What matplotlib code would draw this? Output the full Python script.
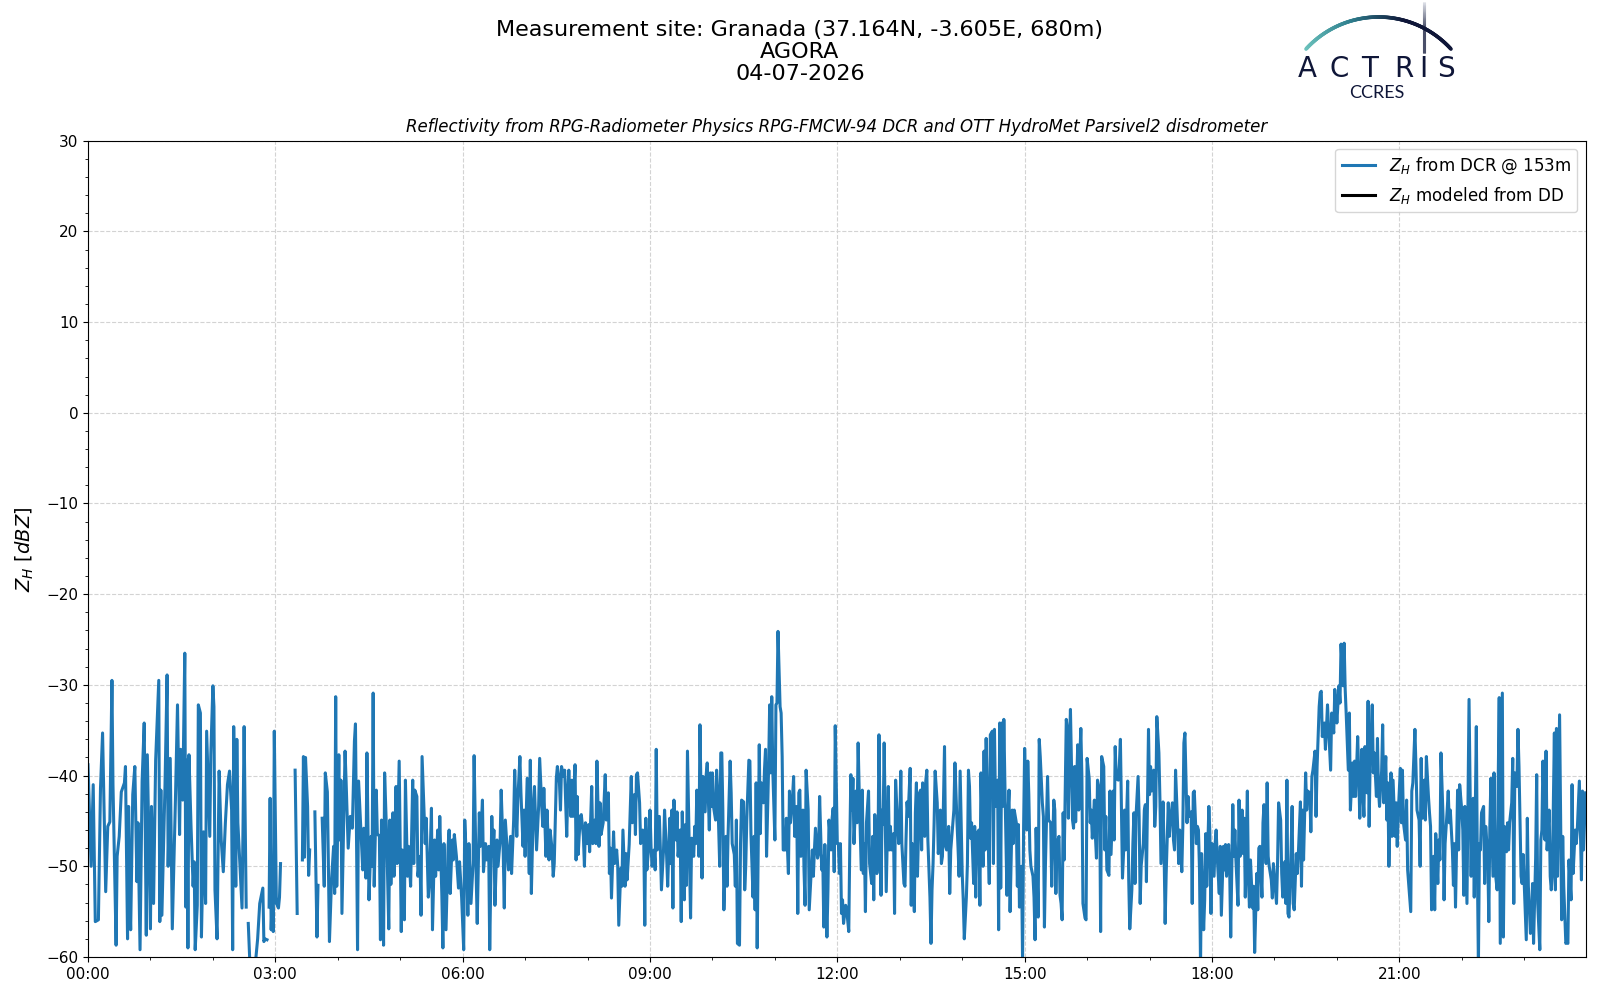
import numpy as np
import matplotlib
matplotlib.use("Agg")
import matplotlib.pyplot as plt
import matplotlib.dates as mdates
from matplotlib.collections import LineCollection
from matplotlib.colors import LinearSegmentedColormap

nan = np.nan

# Z_H from the DCR at 153 m (minutes after 00:00, dBZ)
# nan = no data, values below -60 run off the bottom of the axes
t_00_04 = [0, 3, 5, 7, 10, 12, 14, 17, 19, 21, 23, 24, 27, 28, 30, 32, 35, 36, 38, 39,
           40, 41, 43, 45, 47, 48, 50, 52, 54, 56, 57, 60, 61, 63, 65, 68, 69, 70, 71, 74,
           76, 77, 79, 81, 84, 86, 88, 89, 91, 93, 94, 95, 96, 97, 99, 101, 102, 103, 105, 106,
           108, 109, 111, 113, 114, 117, 118, 120, 121, 122, 124, 126, 128, 130, 132, 134, 136, 138, 139, 140,
           142, 143, 144, 146, 148, 149, 150, 152, 153, 154, 156, 159, 163, 165, 168, 169, 170, 172, 173, 174,
           175, 176, 177, 178, 179, 181, 183, 184, 185, 186, 199, 201, 202, 206, 207, 208, 209, 211, 212, 213,
           214, 218, 220, 221, 222, 225, 227, 228, 230, 232]
zh_00_04 = [-38.8, -50, -41, -56.1, -55.9, -41.4, -35.3, -52.8, -45.6, -45.1, -29.5, -41, -58.7, -48.9, -46.7, -41.8, -40.8, -39, -58, -43.4,
            -53, -57, -42.1, -39, -51.7, -45.2, -59.2, -40.6, -34.2, -57.6, -37.7, -56.9, -43.4, -54.1, -38.3, -29.5, -56.1, -41.6, -55.4, -41,
            -28.9, -50, -38.1, -56.9, -42.7, -32.2, -46.5, -37.1, -42.7, -26.5, -54.5, -38.3, -59, -37.7, -45.6, -52.2, -49.5, -59.2, -54.3, -32.2,
            -33.1, -57.8, -46.2, -54.1, -35.1, -46.7, -37.7, -30.1, -32.4, -52.6, -58, -39.5, -47.1, -50.6, -45.2, -41, -39.5, -43.8, -59.2, -34.6,
            -52.2, -36, -45.2, -50, -54.6, -45.2, -34.6, -54.5, nan, -56.3, -62, -63, -58, -54.1, -52.4, -58.3, -58, -58.1, nan, -54.5,
            -42.5, -57, -53.4, -57.2, -35.1, -54.1, -54.6, -53.4, -49.7, nan, -39.4, -55.2, nan, -49.3, -37.9, -49, -38, -43.4, -51, -48.2,
            nan, -44, -57.8, -52.1, nan, -44.7, -52.2, -39.7, -41.8, -58.3]

t_04_08 = [234, 236, 237, 238, 239, 241, 242, 243, 244, 247, 248, 250, 252, 254, 256, 257, 259, 260, 264, 265,
           267, 268, 270, 272, 273, 274, 275, 277, 278, 280, 281, 282, 284, 285, 287, 289, 290, 291, 293, 294,
           296, 297, 299, 301, 302, 304, 305, 307, 308, 310, 312, 313, 314, 316, 317, 319, 320, 321, 323, 324,
           325, 327, 328, 330, 331, 333, 334, 336, 337, 338, 340, 341, 342, 344, 346, 347, 348, 350, 351, 352,
           354, 356, 357, 359, 361, 362, 364, 365, 366, 368, 370, 371, 373, 374, 376, 377, 379, 380, 382, 383,
           385, 386, 388, 389, 390, 391, 393, 394, 396, 397, 399, 400, 401, 403, 404, 406, 407, 409, 410, 412,
           413, 415, 416, 418, 419, 420, 422, 424, 425, 426, 428, 429, 431, 433, 434, 436, 437, 438, 440, 441,
           443, 444, 446, 447, 448, 450, 451, 453, 454, 455, 457, 458, 460, 461, 462]
zh_04_08 = [-51.5, -47.8, -53, -31.3, -52.2, -37.7, -47.1, -40.5, -55.2, -37.3, -40.6, -48, -44.5, -45.8, -36.2, -34.3, -59.2, -40.6, -50.4, -45.8,
            -51.3, -37.5, -53.7, -46.7, -50, -30.9, -52.2, -41.6, -46.4, -46.7, -58.1, -44.9, -58.7, -39.7, -46.7, -56.9, -44.9, -52, -44.1, -51.1,
            -41.2, -49.7, -38.4, -57.2, -48.2, -55.9, -40.5, -51.1, -47.8, -52.2, -40.5, -49.7, -41.6, -42.3, -51.1, -48.9, -55.4, -37.9, -44.5, -47.5,
            -44.7, -53.4, -51.9, -43.6, -57, -47.1, -51.1, -46, -50.4, -44.5, -53.2, -59, -47.5, -57, -47.8, -46, -53, -47.1, -49.3, -46.5,
            -48.9, -52.4, -49.5, -53.4, -59.2, -44.9, -50.4, -55.4, -47.5, -54.1, -49.7, -37.8, -51.1, -56.3, -44.1, -47.8, -42.7, -50.6, -47.5, -49.3,
            -47.8, -59.2, -44.5, -48.9, -46, -54.3, -47.1, -50, -47.1, -41.6, -48.6, -54.6, -44.9, -48.6, -50.4, -46.7, -50.8, -44.9, -39.4, -46.7,
            -42.7, -37.9, -41.9, -47.8, -43.8, -48.9, -40.3, -50.8, -38.3, -53, -43, -41.2, -48.2, -43.4, -38.1, -43.4, -45.6, -41.4, -48.9, -43.8,
            -49.3, -46, -48.2, -51.1, -49.7, -40.3, -39, -40.8, -43.8, -39, -40.1, -39.4, -46.7, -41.9, -39.4]

t_08_12 = [464, 465, 466, 468, 469, 470, 471, 473, 474, 476, 477, 478, 480, 481, 482, 484, 485, 487, 488, 489,
           491, 492, 493, 495, 497, 498, 500, 501, 502, 503, 505, 506, 508, 509, 510, 512, 513, 514, 516, 517,
           518, 520, 521, 522, 523, 525, 526, 527, 528, 530, 531, 533, 534, 535, 536, 537, 539, 540, 541, 542,
           544, 545, 546, 547, 549, 550, 551, 553, 554, 556, 557, 559, 560, 561, 562, 563, 565, 566, 567, 569,
           570, 571, 573, 574, 575, 576, 578, 579, 580, 582, 583, 584, 585, 587, 588, 589, 590, 591, 593, 594,
           595, 597, 598, 599, 600, 601, 603, 604, 605, 607, 608, 609, 610, 611, 613, 614, 615, 617, 618, 619,
           621, 622, 623, 624, 626, 627, 628, 630, 631, 632, 633, 635, 636, 637, 639, 640, 641, 642, 643, 645,
           646, 647, 649, 650, 651, 652, 654, 655, 656, 657, 658, 660, 661, 662, 663, 665, 666, 667, 668, 670,
           671, 673, 674, 675, 677, 678, 679, 681, 682, 683, 684, 685, 687, 688, 689, 690, 692, 693]
zh_08_12 = [-44.5, -40.5, -44.5, -38.8, -49.3, -42.3, -48.7, -44.5, -44.3, -46.7, -50, -45.2, -47.5, -45.4, -48.4, -41.2, -47.5, -44.9, -47.5, -38.4,
            -47.8, -43, -46.5, -45.2, -39.9, -44.9, -41.9, -50.8, -48, -53.5, -46.2, -49.7, -48.2, -50, -56.5, -50.2, -52.2, -46, -52.2, -48.6,
            -51.5, -47.6, -44, -40.1, -45.2, -42.1, -46.5, -39.9, -39.7, -43, -47.5, -46, -47.1, -56.5, -44.7, -50.4, -47.5, -43.8, -47.8, -50,
            -48.2, -50.4, -37.1, -48.2, -44.5, -48.2, -52.6, -48.2, -43.8, -48.9, -52.2, -44.7, -49.7, -43.8, -54.6, -42.7, -47.1, -44, -48.9, -46,
            -56.1, -44, -53.7, -45.4, -52.1, -37.3, -49.7, -55.7, -46.9, -48.9, -45.6, -47.5, -41.6, -48.9, -34.4, -41.6, -51.3, -40.1, -44, -39.9,
            -38.6, -46, -39.7, -43.4, -39.7, -43.4, -44.9, -39.4, -41.6, -50, -37.5, -37.5, -43.8, -54.8, -46.7, -52.2, -46.7, -38.4, -41.9, -47.5,
            -48.7, -52.2, -44.9, -58.5, -58.7, -47.5, -42.7, -42.9, -52.6, -50, -44.9, -38.3, -38.4, -46.4, -53.4, -46.7, -54.8, -40.8, -59, -36.6,
            -46.4, -40.8, -43, -39.4, -37.1, -48.9, -39, -32.2, -39.7, -31.3, -39.4, -47.1, -32.2, -32, -24.1, -32.4, -33.1, -37.9, -48.2, -48.2,
            -44.7, -50.8, -41.7, -45.2, -42.3, -40.1, -46.7, -43.4, -55.2, -41.9, -41.6, -48.9, -43.8, -50.4, -54.3, -39.4, -43.8, -54.8]

t_12_15 = [696, 697, 698, 699, 701, 702, 703, 705, 706, 707, 708, 710, 711, 712, 714, 715, 716, 717, 718, 720,
           721, 722, 723, 724, 725, 726, 728, 729, 731, 732, 733, 734, 735, 736, 738, 739, 740, 741, 743, 744,
           745, 746, 747, 748, 750, 751, 753, 754, 755, 756, 758, 759, 760, 762, 763, 764, 765, 766, 767, 769,
           770, 771, 772, 774, 775, 776, 778, 779, 780, 781, 782, 784, 785, 786, 787, 788, 790, 791, 792, 794,
           795, 796, 797, 799, 800, 801, 802, 804, 805, 806, 807, 809, 810, 811, 812, 813, 814, 816, 817, 818,
           819, 820, 821, 823, 824, 825, 827, 828, 829, 831, 832, 833, 835, 836, 837, 838, 840, 841, 842, 844,
           845, 846, 847, 848, 849, 851, 852, 853, 854, 856, 857, 858, 860, 861, 862, 863, 865, 866, 867, 869,
           870, 871, 872, 874, 875, 876, 877, 878, 879, 880, 881, 883, 884, 885, 886, 888, 889, 890, 892, 893,
           894, 895, 897, 898, 899, 900, 902, 903, 904, 905, 906, 908, 909, 910, 911, 913, 914, 915, 917, 918,
           919, 920, 922, 923]
zh_12_15 = [-48.2, -51.1, -48.2, -45.8, -49.1, -48.6, -42.3, -50.4, -48.9, -56.7, -47.6, -57.8, -52.6, -44.9, -48.2, -44.7, -43.6, -50.6, -34.5, -47.5,
            -47.5, -50.8, -47.5, -55.2, -53.7, -56.3, -54.3, -54.8, -57.2, -47.5, -39.9, -43.8, -40.3, -47.5, -41.7, -45.2, -36.4, -41.6, -50.4, -41.6,
            -50.8, -47.5, -55, -45.2, -41.7, -49.7, -51.9, -46.7, -53.7, -44.3, -50.8, -49.7, -35.5, -53.2, -43.8, -45.4, -36.4, -44.5, -52.8, -41.2,
            -48.2, -45.6, -48.2, -46.4, -55.2, -40.5, -45.6, -47.5, -45.2, -39.5, -47.5, -51.9, -52.2, -47.1, -42.9, -44.5, -39.2, -54.3, -47.5, -55,
            -44.1, -40.8, -51.1, -41.9, -41.6, -48.2, -40.8, -46.7, -40.6, -39.4, -47.1, -53.4, -58.5, -52.6, -49.7, -45.2, -39.5, -43, -48.6, -47.1,
            -43.8, -49.7, -48.9, -36.8, -47.8, -48.2, -45.6, -53, -48.2, -45.2, -43.8, -38.6, -45.2, -48, -51.1, -39.5, -50.8, -53.7, -58, -53.4,
            -49.7, -39.4, -41.2, -46.9, -45.2, -51.9, -45.6, -53.4, -46.4, -46, -54.3, -39.7, -50, -37.3, -48.2, -35.9, -47.1, -51.9, -35.5, -35.1,
            -49.7, -34.9, -43.4, -40.5, -57, -34.2, -52.4, -34.2, -43.4, -33.8, -40.8, -53.2, -44.1, -41.6, -55, -43.8, -47.5, -43.8, -45.2, -52.2,
            -45.4, -54.5, -50, -60.5, -45.6, -37, -46, -38.4, -42.1, -48.2, -50, -51.1, -53.4, -58.1, -45.8, -55.6, -36, -37.9, -43, -44.5,
            -56.7, -49.7, -40.1, -44.9]

t_15_19 = [925, 926, 928, 929, 930, 931, 933, 934, 935, 936, 937, 938, 940, 941, 942, 943, 944, 946, 947, 948,
           949, 951, 952, 953, 954, 955, 956, 958, 959, 960, 962, 963, 964, 965, 967, 968, 969, 970, 972, 973,
           974, 976, 977, 978, 979, 981, 982, 983, 985, 986, 987, 988, 990, 991, 992, 994, 995, 996, 997, 999,
           1000, 1001, 1003, 1004, 1005, 1006, 1007, 1009, 1010, 1011, 1012, 1014, 1015, 1016, 1017, 1019, 1020, 1021, 1022, 1024,
           1025, 1026, 1027, 1029, 1030, 1031, 1033, 1034, 1035, 1036, 1038, 1039, 1040, 1042, 1043, 1044, 1045, 1047, 1048, 1049,
           1051, 1052, 1053, 1054, 1056, 1057, 1058, 1060, 1061, 1062, 1063, 1065, 1066, 1067, 1068, 1069, 1070, 1072, 1073, 1074,
           1075, 1077, 1078, 1079, 1080, 1082, 1083, 1084, 1085, 1087, 1088, 1089, 1091, 1092, 1093, 1094, 1096, 1097, 1098, 1100,
           1101, 1102, 1103, 1105, 1106, 1107, 1109, 1110, 1111, 1112, 1114, 1115, 1116, 1117, 1119, 1120, 1121, 1123, 1124, 1125,
           1126, 1128, 1129, 1130, 1132, 1133, 1134, 1135, 1137, 1138, 1139, 1141, 1142, 1143, 1144, 1146, 1147, 1148, 1150, 1151,
           1152, 1153]
zh_15_19 = [-45.2, -52.2, -42.7, -43.8, -53, -47.5, -46.7, -53.2, -54.1, -55.9, -44.1, -49.3, -33.8, -34.8, -44.7, -37, -32.7, -44.9, -45.8, -39,
            -45.1, -36.6, -43.8, -37.9, -34.8, -40.1, -54.1, -55.7, -55.9, -38.1, -40.3, -45.2, -43.8, -46.9, -42.7, -46.7, -49.1, -40.5, -41.7, -57.2,
            -37.9, -39, -48.2, -44.5, -50.4, -51, -41.7, -48.7, -41.7, -47.1, -36.8, -40.3, -40.5, -38.8, -36, -51.3, -48.6, -43.8, -48.2, -40.6,
            -51.5, -56.9, -52.6, -47.5, -44.1, -51.9, -44.5, -40.1, -44.5, -54.1, -49.9, -47.5, -43.8, -43.2, -51.7, -34.9, -42.1, -39, -41.7, -39.4,
            -45.6, -43.4, -33.5, -37.5, -42.7, -49.7, -42.9, -48.6, -56.3, -50.8, -43, -46.7, -44.9, -43, -47.1, -48.2, -39.4, -45.6, -49.7, -46,
            -50.6, -45.6, -36.4, -35.3, -45.2, -42.3, -44.5, -44, -54.1, -41.9, -41.7, -47.5, -45.6, -46, -50.4, -61, -48.6, -57, -53.7, -46.4,
            -52.2, -43.4, -46.4, -55.2, -47.5, -51.1, -47.5, -46, -48.9, -53, -47.8, -55.4, -47.8, -50.4, -47.6, -51.1, -47.6, -50.4, -57.8, -43.2,
            -48.9, -46, -49.3, -54.3, -42.7, -48.9, -43.8, -48.6, -44.7, -53.4, -41.7, -51.5, -54.5, -49.3, -54.6, -52.2, -59.5, -50.8, -54.8, -48,
            -47.8, -53.4, -45.2, -43.2, -49.7, -40.8, -48.9, -50, -51.5, -53.5, -49.7, -52.6, -54.1, -49.7, -43, -44.9, -50.8, -53.4, -49.5, -54.1,
            -40.5, -55.2]

t_19_24 = [1154, 1156, 1157, 1158, 1159, 1161, 1162, 1163, 1165, 1166, 1167, 1168, 1170, 1171, 1172, 1174, 1175, 1176, 1177, 1179,
           1180, 1181, 1183, 1184, 1185, 1186, 1188, 1189, 1190, 1191, 1193, 1194, 1195, 1197, 1198, 1199, 1200, 1202, 1203, 1204,
           1206, 1207, 1208, 1209, 1211, 1212, 1213, 1215, 1216, 1217, 1218, 1220, 1221, 1222, 1224, 1225, 1226, 1227, 1229, 1230,
           1231, 1232, 1234, 1235, 1236, 1238, 1239, 1240, 1241, 1243, 1244, 1245, 1247, 1248, 1249, 1250, 1252, 1253, 1254, 1256,
           1257, 1258, 1259, 1261, 1262, 1263, 1264, 1266, 1267, 1268, 1270, 1271, 1272, 1273, 1275, 1276, 1277, 1279, 1280, 1281,
           1282, 1284, 1285, 1286, 1288, 1289, 1290, 1291, 1293, 1294, 1295, 1297, 1298, 1299, 1300, 1302, 1303, 1304, 1306, 1307,
           1308, 1309, 1311, 1312, 1313, 1314, 1316, 1317, 1318, 1320, 1321, 1322, 1323, 1325, 1326, 1327, 1329, 1330, 1331, 1332,
           1334, 1335, 1336, 1337, 1338, 1339, 1341, 1342, 1343, 1345, 1346, 1347, 1348, 1350, 1351, 1352, 1354, 1355, 1356, 1357,
           1359, 1360, 1361, 1363, 1364, 1365, 1366, 1368, 1369, 1370, 1371, 1373, 1374, 1375, 1377, 1378, 1379, 1380, 1382, 1383,
           1384, 1386, 1387, 1388, 1389, 1391, 1392, 1393, 1395, 1396, 1397, 1398, 1400, 1401, 1402, 1404, 1405, 1406, 1407, 1409,
           1410, 1411, 1412, 1414, 1416, 1417, 1418, 1420, 1421, 1422, 1423, 1425, 1426, 1427, 1429, 1430, 1431, 1432, 1433, 1435,
           1436, 1437, 1439]
zh_19_24 = [-55.6, -48.2, -43.4, -54.1, -54.8, -48.6, -50.8, -48.6, -42.9, -52.2, -43.8, -49.3, -39.7, -43.8, -41.7, -41.9, -46.2, -40.1, -39.4, -37.3,
            -44.5, -39, -32.4, -30.9, -30.7, -35.7, -34.2, -37.1, -34.8, -32.2, -37.1, -39.4, -33.1, -35.3, -30.5, -32, -34.2, -30.1, -32, -25.5,
            -30.1, -25.4, -30.5, -33.3, -39.4, -33.1, -43.8, -38.6, -42.3, -38.4, -42.3, -35.7, -39.7, -44.7, -37.1, -41.9, -44.5, -36.8, -41.9, -31.8,
            -45.6, -38.3, -32.2, -39.7, -37.5, -42.3, -35.9, -41.6, -43.4, -39.5, -34.4, -43, -37.9, -44.9, -40.8, -50, -39.7, -46.7, -40.5, -46.7,
            -43, -47.8, -44.1, -39.2, -45.2, -39.4, -45.2, -47.1, -42.7, -50.4, -53.4, -55, -41.7, -40.8, -34.9, -39, -43.8, -44.9, -50, -38.1,
            -44.7, -40.5, -44.9, -37.9, -42.3, -44.1, -45.6, -54.8, -48.9, -54.8, -46.4, -51.9, -47.1, -49.3, -37.5, -44.5, -53.7, -47.5, -43.8, -41.7,
            -45.2, -43.8, -48.2, -52.1, -47.5, -54.5, -41.6, -48.2, -41, -43.8, -46, -53.2, -43.4, -54.1, -42.9, -31.6, -51.1, -43.8, -42.5, -53.4,
            -34.6, -50, -61, -47.5, -48.2, -44.1, -43.4, -51.9, -45.6, -48.9, -56.1, -45.6, -40.3, -51.1, -39.7, -50.4, -52.6, -40.8, -31.4, -58.5,
            -30.9, -57.8, -45.6, -48.4, -45.2, -48.2, -45.2, -43, -38.1, -54.1, -39.7, -41.2, -34.9, -39, -51.1, -51.9, -48.7, -51.9, -58.1, -44.7,
            -52.2, -57.4, -56.3, -51.9, -58.5, -49.1, -39.9, -54.1, -59.2, -47.1, -46, -38.4, -47.1, -37.3, -48.2, -43.8, -51.1, -52.6, -51.1, -35.3,
            -52.6, -34.8, -51.1, -33.3, -55.9, -46.7, -52.2, -58.5, -58.3, -58.5, -49.3, -53.7, -41, -50.8, -46, -47.5, -46, -43.4, -40.6, -51.5,
            -41.7, -48.2, -41.9]

day = np.datetime64("2026-07-04T00:00")
minutes = np.concatenate([t_00_04, t_04_08, t_08_12, t_12_15, t_15_19, t_19_24]).astype(int)
zh_dcr = np.concatenate([zh_00_04, zh_04_08, zh_08_12, zh_12_15, zh_15_19, zh_19_24])
times = day + minutes.astype("timedelta64[m]")

fig = plt.figure(figsize=(16, 10), dpi=100)
ax = fig.add_axes([0.055, 0.043, 0.936, 0.8163])

ax.plot(times, zh_dcr, color="#1f77b4", lw=2.2, label=r"$Z_H$ from DCR @ 153m")
ax.plot([], [], color="black", lw=2.2, label=r"$Z_H$ modeled from DD")

ax.set_xlim(day, day + np.timedelta64(1439, "m"))
ax.set_ylim(-60, 30)
ax.xaxis.set_major_locator(mdates.HourLocator(byhour=range(0, 24, 3)))
ax.xaxis.set_minor_locator(mdates.HourLocator())
ax.xaxis.set_major_formatter(mdates.DateFormatter("%H:%M"))
ax.yaxis.set_major_locator(plt.MultipleLocator(10))
ax.yaxis.set_minor_locator(plt.MultipleLocator(2))
ax.tick_params(labelsize=11)
ax.grid(True, which="major", ls="--", color="lightgray", lw=0.8)

ax.set_ylabel(r"$Z_H$ [$dBZ$]", fontsize=14, labelpad=7)
ax.set_title("Reflectivity from RPG-Radiometer Physics RPG-FMCW-94 DCR and OTT HydroMet Parsivel2 disdrometer",
             fontsize=12, style="italic")
ax.legend(loc="upper right", fontsize=12)

fig.suptitle("Measurement site: Granada (37.164N, -3.605E, 680m)\nAGORA\n04-07-2026",
             x=0.5, y=0.98, va="top", fontsize=16, linespacing=1.12)

# ACTRIS CCRES logo, drawn in a small axes measured in pixels
navy = "#0f1638"
lg = fig.add_axes([1290 / 1600, 1 - 110 / 1000, 180 / 1600, 110 / 1000])
lg.set_xlim(0, 180)
lg.set_ylim(110, 0)
lg.axis("off")

theta = np.linspace(np.radians(137.7), np.radians(42.3), 200)
arc_x = 88.5 + 98 * np.cos(theta)
arc_y = 115 - 98 * np.sin(theta)
pts = np.column_stack([arc_x, arc_y]).reshape(-1, 1, 2)
segs = np.concatenate([pts[:-1], pts[1:]], axis=1)
arc_cmap = LinearSegmentedColormap.from_list("arc", ["#6cc3bd", "#2f7f8e", navy, navy], N=256)
lc = LineCollection(segs, cmap=arc_cmap, linewidths=2.6, capstyle="round")
lc.set_array(np.linspace(0, 1, len(segs)))
lg.add_collection(lc)

vy = np.linspace(2, 53, 60)
vpts = np.column_stack([np.full_like(vy, 133.5), vy]).reshape(-1, 1, 2)
vsegs = np.concatenate([vpts[:-1], vpts[1:]], axis=1)
vc = LineCollection(vsegs, cmap=LinearSegmentedColormap.from_list("v", ["#d0d4de", navy, navy]), linewidths=2.2)
vc.set_array(np.linspace(0, 1, len(vsegs)))
lg.add_collection(vc)

for letter, lx in zip("ACTRIS", [17, 49, 80, 113.5, 133.5, 156]):
    lg.text(lx, 77, letter, ha="center", va="baseline", fontsize=20, color=navy, family="DejaVu Sans")
lg.text(86.7, 93, "CCRES", ha="center", va="center", fontsize=13, color=navy, family="Lato")

fig.savefig("out.png", dpi=100)
